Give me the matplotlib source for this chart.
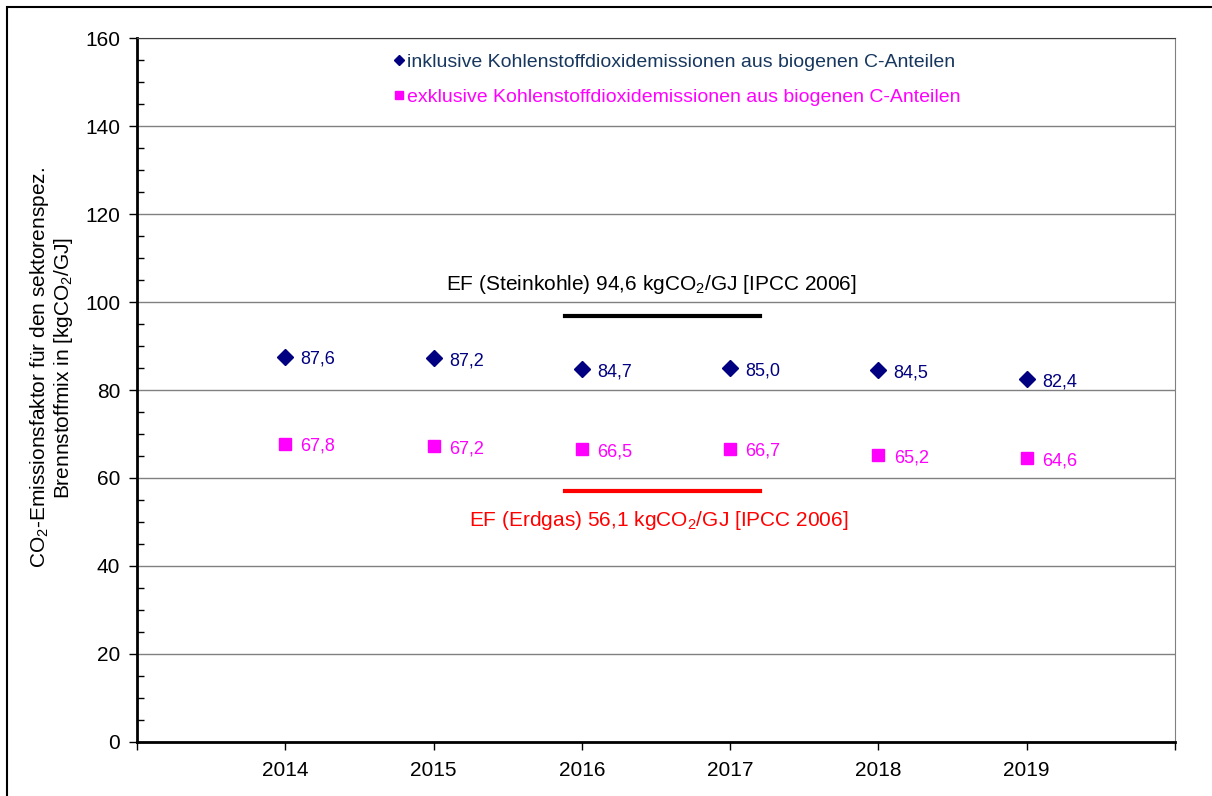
import matplotlib.pyplot as plt
from matplotlib.patches import Rectangle

plt.rcParams['font.family'] = ['Liberation Sans', 'DejaVu Sans']
plt.rcParams['mathtext.fontset'] = 'custom'
plt.rcParams['mathtext.rm'] = 'Liberation Sans'
plt.rcParams['mathtext.it'] = 'Liberation Sans:italic'
plt.rcParams['mathtext.bf'] = 'Liberation Sans:bold'

years = [2014, 2015, 2016, 2017, 2018, 2019]
inkl = [87.6, 87.2, 84.7, 85.0, 84.5, 82.4]
exkl = [67.8, 67.2, 66.5, 66.7, 65.2, 64.6]

# reference lines (position as drawn in the source chart)
ef_kohle_y = 96.8
ef_gas_y = 57.1
ef_x = [2015.885, 2017.2]

navy = "#000080"
magenta = "#FF00FF"

fig = plt.figure(figsize=(12.12, 7.96), dpi=100)
ax = fig.add_axes([0.113, 0.068, 0.8565, 0.884])

ax.set_ylim(0, 160)
ax.set_xlim(2013, 2020)
ax.set_yticks(range(0, 161, 20))
ax.set_yticks(range(0, 161, 5), minor=True)
ax.set_xticks(range(2013, 2021))
ax.set_xticklabels([""] + [str(y) for y in years] + [""])
ax.tick_params(axis="y", which="major", direction="out", length=6, width=1, labelsize=15, pad=6)
ax.tick_params(axis="y", which="minor", direction="in", length=5, width=1)
ax.tick_params(axis="x", which="major", direction="out", length=6, width=1, labelsize=15, pad=8)
ax.grid(axis="y", which="major", color="#808080", linewidth=1)
ax.set_axisbelow(True)

for s in ["left", "bottom"]:
    ax.spines[s].set_linewidth(2)
    ax.spines[s].set_color("black")
ax.spines["right"].set_color("#808080")
ax.spines["top"].set_color("#404040")

ax.plot(years, inkl, linestyle="none", marker="D", markersize=8, color=navy,
        label="inklusive Kohlenstoffdioxidemissionen aus biogenen C-Anteilen")
ax.plot(years, exkl, linestyle="none", marker="s", markersize=9, color=magenta,
        label="exklusive Kohlenstoffdioxidemissionen aus biogenen C-Anteilen")

for x, y in zip(years, inkl):
    ax.annotate(f"{y:.1f}".replace(".", ","), (x, y), xytext=(11, -2),
                textcoords="offset points", va="center", ha="left", fontsize=13, color=navy)
for x, y in zip(years, exkl):
    ax.annotate(f"{y:.1f}".replace(".", ","), (x, y), xytext=(11, -2),
                textcoords="offset points", va="center", ha="left", fontsize=13, color=magenta)

ax.plot(ef_x, [ef_kohle_y, ef_kohle_y], color="black", linewidth=3)
ax.plot(ef_x, [ef_gas_y, ef_gas_y], color="#FF0000", linewidth=3)
ax.text(2016.466, 104.1, "EF (Steinkohle) 94,6 kgCO$_2$/GJ [IPCC 2006]",
        ha="center", va="center", fontsize=15, color="black")
ax.text(2016.517, 50.4, "EF (Erdgas) 56,1 kgCO$_2$/GJ [IPCC 2006]",
        ha="center", va="center", fontsize=15, color="#FF0000")

leg = ax.legend(loc="upper left", bbox_to_anchor=(0.2305, 1.004), frameon=False,
                fontsize=14, handlelength=0.55, handletextpad=0.12, labelspacing=0.93,
                markerscale=0.7)
leg.get_texts()[0].set_color("#17375E")
leg.get_texts()[1].set_color(magenta)

ax.set_ylabel("CO$_2$-Emissionsfaktor für den sektorenspez.\nBrennstoffmix in [kgCO$_2$/GJ]",
              fontsize=15, linespacing=1.05)
ax.yaxis.set_label_coords(-0.0595, 0.532)

fig.patches.append(Rectangle((7 / 1212, -0.1), 1.2, 1.1 - 7 / 796, transform=fig.transFigure,
                             fill=False, edgecolor="black", linewidth=1.5))

fig.savefig("out.png", dpi=100)
